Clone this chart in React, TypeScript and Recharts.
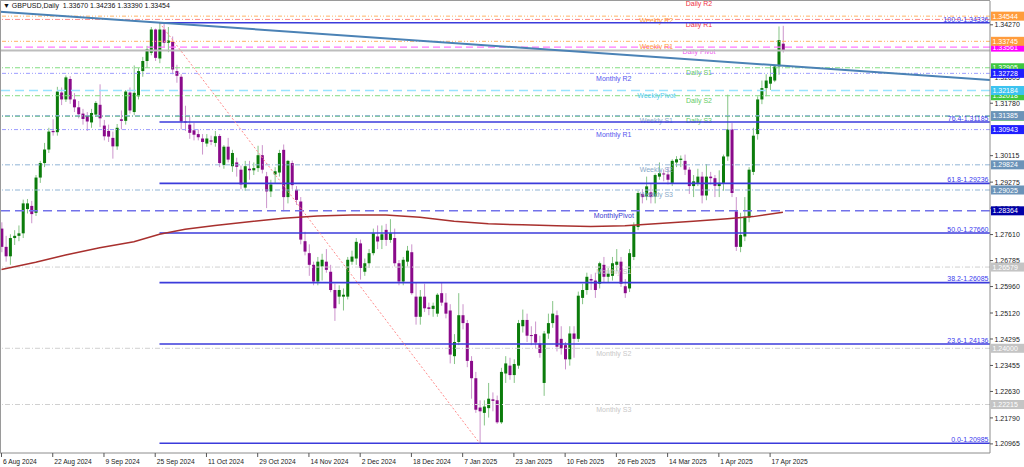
import React from 'react';
import { ComposedChart, Bar, Line, XAxis, YAxis, ReferenceLine } from 'recharts';

// ---------------- DATA ----------------
const chartTitle = 'GBPUSD,Daily  1.33670 1.34236 1.33390 1.33454';

const dateTickBars = [0, 12, 24, 36, 48, 60, 72, 84, 96, 108, 120, 132, 144, 156, 168, 180];
const dateLabels = ['6 Aug 2024', '22 Aug 2024', '9 Sep 2024', '25 Sep 2024', '11 Oct 2024', '29 Oct 2024', '14 Nov 2024', '2 Dec 2024', '18 Dec 2024', '7 Jan 2025', '23 Jan 2025', '10 Feb 2025', '26 Feb 2025', '14 Mar 2025', '1 Apr 2025', '17 Apr 2025'];

const opens = [
  1.2780,1.2722,1.2692,1.2750,1.2757,1.2765,1.2842,1.2852,1.2830,1.2942,
  1.2988,1.3031,1.3090,1.3086,1.3212,1.3190,1.3255,1.3190,1.3165,1.3145,
  1.3140,1.3117,1.3142,1.3173,1.3107,1.3090,1.3068,1.3041,1.3127,1.3122,
  1.3212,1.3150,1.3200,1.3280,1.3312,1.3338,1.3412,1.3320,1.3412,1.3370,
  1.3373,1.3280,1.3262,1.3120,1.3110,1.3092,1.3080,1.3066,1.3050,1.3060,
  1.3052,1.3074,1.2982,1.3040,1.2978,1.2990,1.2967,1.2910,1.2970,1.2965,
  1.2972,1.3013,1.2946,1.2898,1.2952,1.2958,1.3030,1.2880,1.2988,1.2903,
  1.2866,1.2740,1.2702,1.2665,1.2612,1.2660,1.2675,1.2643,1.2585,1.2564,
  1.2564,1.2564,1.2675,1.2685,1.2733,1.2643,1.2670,1.2702,1.2755,1.2744,
  1.2776,1.2744,1.2750,1.2670,1.2612,1.2675,1.2705,1.2564,1.2500,1.2564,
  1.2530,1.2525,1.2510,1.2575,1.2545,1.2520,1.2375,1.2420,1.2505,1.2480,
  1.2360,1.2305,1.2212,1.2195,1.2210,1.2238,1.2235,1.2165,1.2320,1.2345,
  1.2315,1.2345,1.2470,1.2490,1.2442,1.2445,1.2415,1.2290,1.2447,1.2480,
  1.2505,1.2430,1.2410,1.2365,1.2447,1.2430,1.2560,1.2585,1.2620,1.2615,
  1.2605,1.2665,1.2627,1.2630,1.2665,1.2675,1.2597,1.2590,1.2690,1.2785,
  1.2890,1.2882,1.2895,1.2882,1.2945,1.2955,1.2952,1.2925,1.2990,1.2998,
  1.2995,1.2967,1.2915,1.2925,1.2945,1.2885,1.2945,1.2940,1.2915,1.2925,
  1.3009,1.3095,1.2835,1.2722,1.2755,1.2815,1.2960,1.3080,1.3190,1.3226,
  1.3240,1.3250,1.3295,1.3367,
];
const highs = [
  1.2800,1.2757,1.2762,1.2775,1.2790,1.2872,1.2874,1.2868,1.2950,1.2995,
  1.3052,1.3100,1.3127,1.3230,1.3228,1.3266,1.3264,1.3210,1.3185,1.3160,
  1.3150,1.3160,1.3185,1.3238,1.3125,1.3110,1.3088,1.3112,1.3155,1.3220,
  1.3228,1.3298,1.3290,1.3325,1.3360,1.3420,1.3415,1.34336,1.3430,1.3420,
  1.3390,1.3300,1.3270,1.3170,1.3135,1.3115,1.3095,1.3080,1.3080,1.3075,
  1.3090,1.3080,1.3045,1.3068,1.3030,1.3005,1.2980,1.2995,1.2995,1.2990,
  1.3043,1.3045,1.2960,1.2935,1.2975,1.3030,1.3047,1.2998,1.2996,1.2915,
  1.2880,1.2770,1.2730,1.2675,1.2690,1.2700,1.2715,1.2665,1.2605,1.2600,
  1.2590,1.2690,1.2710,1.2750,1.2745,1.2685,1.2715,1.2780,1.2790,1.2790,
  1.2795,1.2810,1.2780,1.2680,1.2690,1.2725,1.2730,1.2610,1.2585,1.2605,
  1.2545,1.2545,1.2575,1.2608,1.2575,1.2540,1.2445,1.2575,1.2540,1.2490,
  1.2375,1.2325,1.2235,1.2235,1.2290,1.2260,1.2250,1.2338,1.2375,1.2370,
  1.2365,1.2490,1.2523,1.2510,1.2470,1.2485,1.2440,1.2455,1.2510,1.2550,
  1.2520,1.2470,1.2420,1.2470,1.2470,1.2580,1.2605,1.2640,1.2635,1.2640,
  1.2675,1.2690,1.2655,1.2690,1.2715,1.2690,1.2620,1.2715,1.2800,1.2900,
  1.2905,1.2945,1.2925,1.2955,1.2990,1.2968,1.2975,1.3000,1.3010,1.3012,
  1.30149,1.2975,1.2950,1.2970,1.2960,1.2985,1.2960,1.2950,1.2965,1.3015,
  1.3205,1.3115,1.2880,1.2830,1.2880,1.2975,1.3100,1.3200,1.3250,1.3270,
  1.32983,1.3296,1.34217,1.34236,
];
const lows = [
  1.2705,1.2675,1.2665,1.2728,1.2740,1.2750,1.2828,1.2797,1.2820,1.2925,
  1.2975,1.3020,1.3075,1.3075,1.3172,1.3182,1.3176,1.3150,1.3130,1.3110,
  1.3090,1.3100,1.3135,1.3102,1.3060,1.3055,1.3002,1.3030,1.3095,1.3110,
  1.3145,1.3140,1.3190,1.3262,1.3290,1.3330,1.3312,1.3305,1.3355,1.3340,
  1.3270,1.3243,1.3095,1.3090,1.3065,1.3060,1.3060,1.3015,1.3040,1.3045,
  1.3040,1.2975,1.2970,1.2990,1.2960,1.2945,1.2905,1.2900,1.2935,1.2950,
  1.2960,1.2955,1.2845,1.2880,1.2925,1.2945,1.2835,1.2860,1.2905,1.2855,
  1.2730,1.2695,1.2630,1.2600,1.2600,1.2615,1.2640,1.2578,1.2487,1.2540,
  1.2520,1.2555,1.2665,1.2665,1.2618,1.2630,1.2655,1.2695,1.2715,1.2715,
  1.2725,1.2735,1.2660,1.2600,1.2600,1.2660,1.2570,1.2475,1.2475,1.2515,
  1.2505,1.2500,1.2500,1.2535,1.2495,1.2352,1.2350,1.2410,1.2460,1.2340,
  1.2240,1.2195,1.20985,1.2155,1.2180,1.2200,1.2160,1.2160,1.2290,1.2300,
  1.2290,1.2335,1.2450,1.2420,1.2410,1.2400,1.2370,1.2249,1.2430,1.2465,
  1.2390,1.2380,1.2333,1.2345,1.2370,1.2420,1.2540,1.2570,1.2585,1.2560,
  1.2590,1.2610,1.2610,1.2615,1.2645,1.2595,1.2560,1.25785,1.2680,1.2775,
  1.2860,1.2870,1.2860,1.2860,1.2935,1.2930,1.2920,1.2915,1.2975,1.2975,
  1.2950,1.2890,1.2880,1.2915,1.2860,1.2870,1.2920,1.2880,1.2880,1.2900,
  1.2995,1.2880,1.2709,1.2705,1.2740,1.2800,1.2950,1.30623,1.3175,1.3200,
  1.3220,1.3245,1.32682,1.3339,
];
const closes = [
  1.2722,1.2692,1.2750,1.2757,1.2765,1.2860,1.2860,1.2826,1.2942,1.2988,
  1.3031,1.3088,1.3086,1.3215,1.3190,1.3260,1.3190,1.3165,1.3143,1.3128,
  1.3120,1.3147,1.3179,1.3130,1.3073,1.3072,1.3041,1.3100,1.3122,1.3215,
  1.3155,1.3211,1.3280,1.3312,1.3349,1.3412,1.3322,1.3412,1.3370,1.3377,
  1.3285,1.3265,1.3120,1.3117,1.3084,1.3078,1.3070,1.3055,1.3066,1.3056,
  1.3073,1.2988,1.3040,1.2999,1.3020,1.2976,1.2920,1.2978,1.2965,1.2972,
  1.3013,1.2967,1.2898,1.2920,1.2962,1.3020,1.2880,1.2995,1.2918,1.2871,
  1.2745,1.2707,1.2665,1.2612,1.2675,1.2681,1.2649,1.2585,1.2527,1.2585,
  1.2570,1.2681,1.2691,1.2738,1.2655,1.2670,1.2702,1.2765,1.2739,1.2762,
  1.2744,1.2765,1.2670,1.2612,1.2681,1.2710,1.2575,1.2500,1.2564,1.2527,
  1.2525,1.2535,1.2570,1.2545,1.2510,1.2380,1.2420,1.2505,1.2480,1.2360,
  1.2305,1.2205,1.2200,1.2215,1.2240,1.2233,1.2165,1.2325,1.2352,1.2315,
  1.2350,1.2480,1.2490,1.2440,1.2440,1.2418,1.2385,1.2447,1.2480,1.2510,
  1.2405,1.2400,1.2365,1.2447,1.2430,1.2567,1.2585,1.2627,1.2615,1.2585,
  1.2670,1.2627,1.2637,1.2670,1.2675,1.2605,1.2575,1.2702,1.2790,1.2893,
  1.2880,1.2914,1.2880,1.2950,1.2956,1.2952,1.2935,1.2995,1.3000,1.3002,
  1.2967,1.2915,1.2930,1.2945,1.2885,1.2945,1.2940,1.29158,1.2925,1.3009,
  1.3095,1.2893,1.2722,1.2760,1.2818,1.2967,1.3075,1.3190,1.3226,1.3250,
  1.3262,1.32946,1.33784,1.33454,
];

// moving average, read at sample bars
const maBars = [0, 8, 15, 23, 31, 37, 43, 50, 58, 66, 74, 82, 90, 98, 106, 114, 122, 130, 138, 146, 154, 162, 170, 176, 183];
const maValues = [1.2650, 1.2673, 1.2696, 1.2719, 1.2738, 1.2762, 1.2778, 1.2790, 1.2802, 1.2813, 1.2820, 1.2823, 1.2823, 1.2816, 1.2803, 1.2795, 1.2792, 1.2789, 1.2787, 1.2789, 1.2796, 1.2803, 1.2811, 1.2818, 1.2832];

const dailyLevelNames = ['Daily R2', 'Daily R1', 'Daily Pivot', 'Daily S1', 'Daily S2', 'Daily S3'];
const dailyLevelValues = [1.35096, 1.34440, 1.33561, 1.32905, 1.32018, 1.31370];
const weeklyLevelNames = ['Weekly R2', 'Weekly R1', 'WeeklyPivot', 'Weekly S1', 'Weekly S2', 'Weekly S3'];
const weeklyLevelValues = [1.34544, 1.33745, 1.32184, 1.31385, 1.29824, 1.29025];
const monthlyLevelNames = ['Monthly R2', 'Monthly R1', 'MonthlyPivot', 'Monthly S1', 'Monthly S2', 'Monthly S3'];
const monthlyLevelValues = [1.32728, 1.30943, 1.28364, 1.26579, 1.24000, 1.22215];

const fibRatios = ['100.0', '76.4', '61.8', '50.0', '38.2', '23.6', '0.0'];
const fibValues = [1.34336, 1.31185, 1.29236, 1.27660, 1.26085, 1.24136, 1.20985];
const fibHighBar = 37;
const fibLowBar = 112;

const trendStart = { bar: -0.35, value: 1.34685 };
const trendEnd = { bar: 231.5, value: 1.32517 };
const bidPrice = 1.33454;

const yTickValues = [1.34270, 1.32605, 1.31780, 1.30115, 1.29275, 1.28450, 1.27610, 1.26785, 1.25960, 1.25120, 1.24295, 1.23455, 1.22630, 1.21790, 1.20965];

const X_DOMAIN: [number, number] = [-0.35, 231.5];
const Y_DOMAIN: [number, number] = [1.20676, 1.35025];

// ---------------- STYLES ----------------
const W = 1024;
const H = 467;
const AXIS_W = 34;
const XAXIS_H = 14;
const PLOT_RIGHT = W - AXIS_W;
const PLOT_BOTTOM = H - XAXIS_H;
const FONT = '"Liberation Sans", Arial, sans-serif';

const dailyStyle = [
  { line: '#ff8a8a', dash: '5 2 1 2', text: '#ee3344', box: null },
  { line: '#ff8a8a', dash: '5 2 1 2', text: '#ee3344', box: null },
  { line: '#ff77ff', dash: '7 4', text: '#ee55ee', box: '#ff00ff' },
  { line: '#80dd80', dash: '5 2 1 2', text: '#66cc66', box: '#3fc83f' },
  { line: '#80dd80', dash: '5 2 1 2', text: '#66cc66', box: '#3fc83f' },
  { line: '#3fae60', dash: '5 2 1 2', text: '#66cc66', box: '#2fa050' },
];
const weeklyStyle = [
  { line: '#ffb466', dash: '4 2 1 2 1 2', text: '#ffa040', box: '#ff9c3c' },
  { line: '#ffb466', dash: '4 2 1 2 1 2', text: '#ffa040', box: '#ff9c3c' },
  { line: '#99e3ff', dash: '9 5', text: '#55ccee', box: '#3cc3f0' },
  { line: '#90b4d6', dash: '5 2 1 2', text: '#88a8c8', box: '#6b93b8' },
  { line: '#90b4d6', dash: '5 2 1 2', text: '#88a8c8', box: '#6b93b8' },
  { line: '#90b4d6', dash: '5 2 1 2', text: '#88a8c8', box: '#6b93b8' },
];
const monthlyStyle = [
  { line: '#9c9cff', dash: '4 2 1 2 1 2', text: '#5555ee', box: '#1f1fff' },
  { line: '#9c9cff', dash: '4 2 1 2 1 2', text: '#5555ee', box: '#1f1fff' },
  { line: '#7272ea', dash: '9 5', text: '#3a3ad0', box: '#0000a8' },
  { line: '#d0d0d0', dash: '5 2 1 2', text: '#c8c8c8', box: '#c4c4c4' },
  { line: '#d0d0d0', dash: '5 2 1 2', text: '#c8c8c8', box: '#c4c4c4' },
  { line: '#d0d0d0', dash: '5 2 1 2', text: '#c8c8c8', box: '#c4c4c4' },
];

const groups = [
  { names: dailyLevelNames, values: dailyLevelValues, styles: dailyStyle, frac: 0.706 },
  { names: weeklyLevelNames, values: weeklyLevelValues, styles: weeklyStyle, frac: 0.663 },
  { names: monthlyLevelNames, values: monthlyLevelValues, styles: monthlyStyle, frac: 0.620 },
];

// price boxes on the right axis (drawn in order: daily, weekly, monthly)
const boxMap = new Map<string, string>();
const boxTicks: number[] = [];
groups.forEach((g) => {
  g.values.forEach((v, k) => {
    const col = g.styles[k].box;
    if (col && v < Y_DOMAIN[1]) {
      boxMap.set(v.toFixed(5), col);
      boxTicks.push(v);
    }
  });
});
const allYTicks = [...yTickValues, ...boxTicks];

const maMap = new Map<number, number>();
maBars.forEach((b, k) => maMap.set(b, maValues[k]));

const data = opens.map((o, i) => ({
  i,
  o,
  h: highs[i],
  l: lows[i],
  c: closes[i],
  range: [lows[i], highs[i]],
  ma: maMap.has(i) ? maMap.get(i) : null,
}));

// ---------------- RENDERERS ----------------
function Candle(props: any) {
  const { x, y, width, height, payload } = props;
  if (!payload) return null;
  const { o, h, l, c } = payload;
  const cx = x + width / 2;
  const top = Math.min(y, y + height);
  const hh = Math.abs(height);
  const k = h > l ? hh / (h - l) : 0;
  const py = (p: number) => top + (h - p) * k;
  const bull = c >= o;
  const bodyTop = py(Math.max(o, c));
  const bodyBot = py(Math.min(o, c));
  const col = bull ? '#0b7c0b' : '#8a0a8a';
  const wick = bull ? '#86c486' : '#cc94cc';
  return (
    <g>
      <line x1={cx} x2={cx} y1={top} y2={top + hh} stroke={wick} strokeWidth={1} />
      <rect x={cx - 1.5} y={bodyTop} width={3} height={Math.max(1, bodyBot - bodyTop)} fill={col} />
    </g>
  );
}

function XTick(props: any) {
  const { x, payload } = props;
  const idx = dateTickBars.indexOf(payload.value);
  const label = idx >= 0 ? dateLabels[idx] : '';
  return (
    <g>
      <line x1={x} x2={x} y1={PLOT_BOTTOM} y2={PLOT_BOTTOM + 4} stroke="#555" strokeWidth={1} />
      <text x={x + 1.5} y={PLOT_BOTTOM + 10.5} fontSize={6.7} fill="#222" fontFamily={FONT}>{label}</text>
    </g>
  );
}

function YTick(props: any) {
  const { y, payload } = props;
  const v = Number(payload.value);
  const key = v.toFixed(5);
  const col = boxMap.get(key);
  if (col) {
    return (
      <g>
        <rect x={PLOT_RIGHT + 1} y={y - 4.5} width={AXIS_W - 1} height={9} fill={col} />
        <text x={PLOT_RIGHT + 2.5} y={y + 2.6} fontSize={7} fill="#ffffff" fontFamily={FONT}>{key}</text>
      </g>
    );
  }
  return (
    <g>
      <line x1={PLOT_RIGHT} x2={PLOT_RIGHT + 3} y1={y} y2={y} stroke="#555" strokeWidth={1} />
      <text x={PLOT_RIGHT + 4.5} y={y + 2.6} fontSize={7} fill="#222" fontFamily={FONT}>{key}</text>
    </g>
  );
}

const levelLabel = (text: string, color: string, frac: number) => (p: any) => {
  const vb = p.viewBox || {};
  const cx = (vb.x || 0) + (vb.width || 0) * frac;
  return (
    <text x={cx} y={(vb.y || 0) + 7.3} textAnchor="middle" fontSize={7} fill={color} fontFamily={FONT}>{text}</text>
  );
};

const fibLabel = (text: string) => (p: any) => {
  const vb = p.viewBox || {};
  const right = (vb.x || 0) + (vb.width || 0) - 1.5;
  return (
    <text x={right} y={(vb.y || 0) - 1.2} textAnchor="end" fontSize={7} fill="#3a3aee" fontFamily={FONT}>{text}</text>
  );
};

export default function App() {
  return (
    <div style={{ position: 'absolute', left: 0, top: 0, width: W, height: H, background: '#ffffff', overflow: 'hidden', fontFamily: FONT }}>
      <ComposedChart
        width={W}
        height={H}
        data={data}
        margin={{ top: 1, right: 0, bottom: 0, left: 0 }}
        style={{ fontFamily: FONT }}
      >
        <XAxis
          dataKey="i"
          type="number"
          domain={X_DOMAIN}
          allowDataOverflow
          ticks={dateTickBars}
          interval={0}
          tick={<XTick />}
          tickLine={false}
          axisLine={{ stroke: '#8c8c8c' }}
          height={XAXIS_H}
        />
        <YAxis
          orientation="right"
          type="number"
          domain={Y_DOMAIN}
          allowDataOverflow
          ticks={allYTicks}
          interval={0}
          tick={<YTick />}
          tickLine={false}
          axisLine={{ stroke: '#8c8c8c' }}
          width={AXIS_W}
        />

        {groups.map((g) =>
          g.values.map((v, k) => (
            <ReferenceLine
              key={g.names[k]}
              y={v}
              stroke={g.styles[k].line}
              strokeDasharray={g.styles[k].dash}
              strokeWidth={g.names[k].includes('Pivot') ? 1.4 : 1}
              ifOverflow="visible"
              label={levelLabel(g.names[k], g.styles[k].text, g.frac)}
            />
          ))
        )}

        <ReferenceLine y={bidPrice} stroke="#bdbdbd" strokeWidth={2} />

        {fibValues.map((v, k) => (
          <ReferenceLine
            key={'fib' + k}
            segment={[{ x: fibHighBar, y: v }, { x: X_DOMAIN[1], y: v }]}
            stroke="#3b3bdb"
            strokeWidth={1.6}
            ifOverflow="visible"
            label={fibLabel(`${fibRatios[k]}-${v.toFixed(5)}`)}
          />
        ))}

        <ReferenceLine
          segment={[{ x: fibHighBar, y: fibValues[0] }, { x: fibLowBar, y: fibValues[fibValues.length - 1] }]}
          stroke="#ff8c8c"
          strokeDasharray="2 2"
          strokeWidth={1}
          ifOverflow="visible"
        />

        <ReferenceLine
          segment={[{ x: trendStart.bar, y: trendStart.value }, { x: trendEnd.bar, y: trendEnd.value }]}
          stroke="#4b82b5"
          strokeWidth={2}
          ifOverflow="visible"
        />

        <Line
          dataKey="ma"
          type="linear"
          connectNulls
          dot={false}
          stroke="#a8302e"
          strokeWidth={1.5}
          isAnimationActive={false}
        />

        <Bar dataKey="range" barSize={3} shape={<Candle />} isAnimationActive={false} />
      </ComposedChart>

      <div
        style={{
          position: 'absolute',
          left: 0,
          top: 0,
          width: PLOT_RIGHT,
          height: PLOT_BOTTOM,
          borderTop: '1px solid #9a9a9a',
          borderLeft: '1px solid #9a9a9a',
          boxSizing: 'border-box',
          pointerEvents: 'none',
        }}
      />
      <div
        style={{
          position: 'absolute',
          left: 3,
          top: 1,
          fontSize: 7,
          lineHeight: '10px',
          color: '#111',
          fontFamily: FONT,
          whiteSpace: 'pre',
        }}
      >
        {'\u25BC ' + chartTitle}
      </div>
    </div>
  );
}
